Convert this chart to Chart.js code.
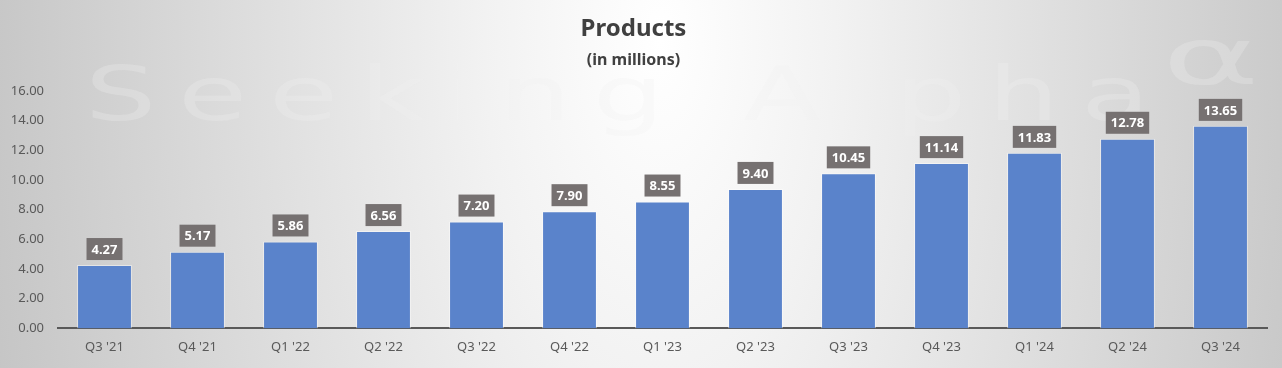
<!DOCTYPE html>
<html>
<head>
<meta charset="utf-8">
<script src="https://cdn.jsdelivr.net/npm/chart.js@4.4.1/dist/chart.umd.min.js"></script>
<style>
  html, body { margin: 0; padding: 0; background: #ffffff; }
  #wrap { width: 1282px; height: 368px; position: relative; }
</style>
</head>
<body>
<div id="wrap"><canvas id="myChart"></canvas></div>
<script>
// quarterly product count (millions)
const quarters = ["Q3 '21", "Q4 '21", "Q1 '22", "Q2 '22", "Q3 '22", "Q4 '22", "Q1 '23",
  "Q2 '23", "Q3 '23", "Q4 '23", "Q1 '24", "Q2 '24", "Q3 '24"];
const products = [4.27, 5.17, 5.86, 6.56, 7.20, 7.90, 8.55, 9.40, 10.45, 11.14, 11.83, 12.78, 13.65];
const yTicks = [0, 2, 4, 6, 8, 10, 12, 14, 16];

// grey radial backdrop
const bgPlugin = {
  id: 'bg',
  beforeDraw(chart) {
    const ctx = chart.ctx;
    ctx.save();
    ctx.setTransform(1, 0, 0, 2, 0, 0);
    const g = ctx.createRadialGradient(660, 20, 0, 660, 20, 700);
    g.addColorStop(0, '#ffffff');
    g.addColorStop(0.25, '#f2f2f2');
    g.addColorStop(1, '#c4c4c4');
    ctx.fillStyle = g;
    ctx.fillRect(0, 0, chart.width, chart.height / 2);
    ctx.restore();
  }
};

// faint watermark behind bars (wide letters)
const markPlugin = {
  id: 'mark',
  beforeDatasetsDraw(chart) {
    const ctx = chart.ctx;
    const txt = 'Seeking Alpha';
    const sx = 1.5;
    ctx.save();
    ctx.font = '75px "DejaVu Sans"';
    ctx.fillStyle = 'rgba(240,240,240,0.28)';
    ctx.textBaseline = 'alphabetic';
    const w = ctx.measureText(txt).width * sx;
    const sp = (1065 - w) / (txt.length - 1);
    let x = 85;
    for (const ch of txt) {
      ctx.save();
      ctx.translate(x, 120);
      ctx.scale(sx, 1);
      ctx.fillText(ch, 0, 0);
      ctx.restore();
      x += ctx.measureText(ch).width * sx + sp;
    }
    ctx.translate(1162, 84);
    ctx.scale(1.9, 1);
    ctx.font = '78px "DejaVu Sans"';
    ctx.fillText('\u03b1', 0, 0);
    ctx.restore();
  }
};

// value boxes above the bars
const labelPlugin = {
  id: 'valueBoxes',
  afterDatasetsDraw(chart) {
    const ctx = chart.ctx;
    const meta = chart.getDatasetMeta(0);
    ctx.save();
    ctx.font = 'bold 13px "Noto Sans"';
    ctx.textAlign = 'center';
    ctx.textBaseline = 'middle';
    meta.data.forEach((bar, i) => {
      const txt = products[i].toFixed(2);
      const w = ctx.measureText(txt).width + 10;
      const h = 22;
      const bottom = bar.y - 5;
      ctx.fillStyle = '#767171';
      ctx.fillRect(bar.x - w / 2, bottom - h, w, h);
      ctx.fillStyle = '#ffffff';
      ctx.fillText(txt, bar.x, bottom - h / 2 + 1);
    });
    ctx.restore();
  }
};

const data = {
  labels: quarters,
  datasets: [
    {
      label: 'Products',
      data: products,
      backgroundColor: '#5A83CB',
      borderColor: 'rgba(255,255,255,0.45)',
      borderWidth: 1,
      borderSkipped: 'bottom',
      barPercentage: 0.59,
      categoryPercentage: 1,
    },
  ],
};

const config = {
  type: 'bar',
  data: data,
  options: {
    responsive: true,
    maintainAspectRatio: false,
    animation: false,
    layout: { padding: { top: 0, right: 15, bottom: 2, left: 0 } },
    plugins: {
      legend: { display: false },
      tooltip: { enabled: false },
      title: {
        display: true,
        text: 'Products',
        color: '#404040',
        font: { family: 'Noto Sans', size: 24, weight: 'bold' },
        padding: { top: 15, bottom: 0 },
      },
      subtitle: {
        display: true,
        text: '(in millions)',
        color: '#404040',
        font: { family: 'Noto Sans', size: 16, weight: 'bold' },
        padding: { top: 7, bottom: 21 },
      },
    },
    scales: {
      x: {
        grid: { display: false, drawTicks: false },
        border: { display: true, color: '#595959', width: 2 },
        ticks: {
          color: '#595959',
          font: { family: 'Noto Sans', size: 13 },
          padding: 11,
          maxRotation: 0,
        },
      },
      y: {
        min: 0,
        max: 16,
        grid: { display: false, drawTicks: false },
        border: { display: false },
        afterFit: (s) => { s.width = 58; },
        afterBuildTicks: (s) => { s.ticks = yTicks.map((v) => ({ value: v })); },
        ticks: {
          color: '#595959',
          font: { family: 'Noto Sans', size: 13 },
          padding: 14,
          callback: (v) => Number(v).toFixed(2),
        },
      },
    },
  },
  plugins: [bgPlugin, markPlugin, labelPlugin],
};

var myChart = new Chart(document.getElementById('myChart'), config);
</script>
</body>
</html>
